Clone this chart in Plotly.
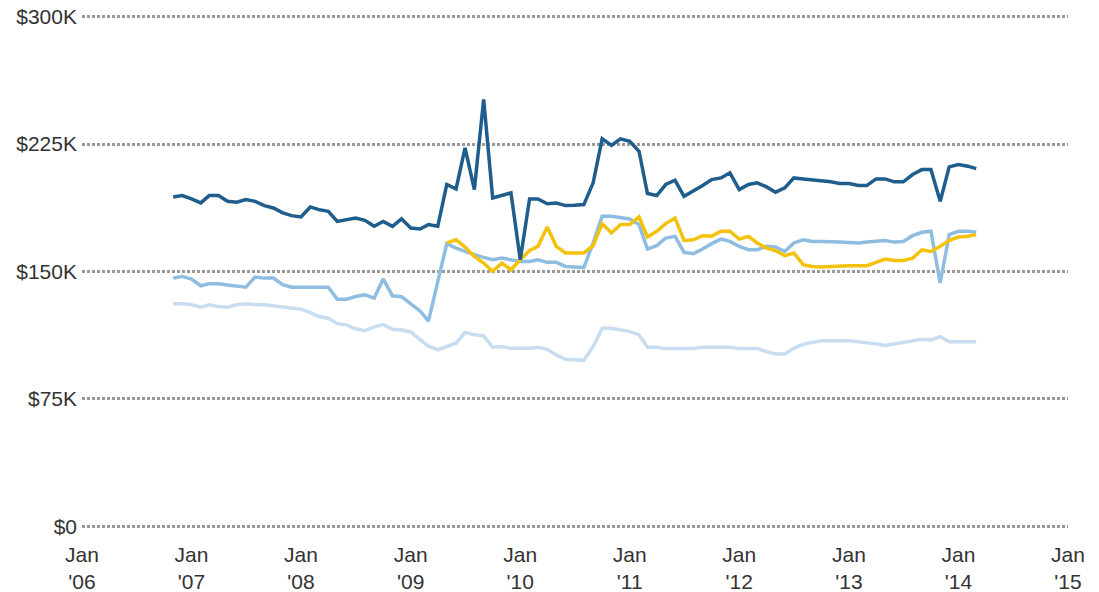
import pandas as pd
import plotly.graph_objects as go

# Monthly dates, Nov 2006 .. Mar 2014
months = pd.date_range("2006-11-01", periods=89, freq="MS")

dark = [193.9, 194.7, 192.7, 190.4, 194.7, 194.7, 191.3, 190.8, 192.3, 191.3,
        188.8, 187.4, 184.5, 182.9, 182.1, 188.0, 186.4, 185.4, 179.5, 180.5,
        181.5, 180.1, 176.6, 179.5, 176.6, 181.0, 175.6, 175.0, 177.6, 176.6,
        201.2, 198.6, 222.8, 198.2, 251.3, 193.3, 194.7, 196.3, 156.9, 192.7,
        192.7, 189.9, 190.3, 188.8, 189.0, 189.4, 202.2, 228.1, 224.2, 228.1,
        226.7, 220.8, 195.9, 194.7, 201.2, 203.7, 194.3, 197.2, 200.6, 204.1,
        205.1, 208.1, 198.2, 201.2, 202.2, 199.8, 196.7, 199.2, 205.1, 204.5,
        204.1, 203.5, 202.8, 201.8, 201.8, 200.6, 200.6, 204.5, 204.5, 202.8,
        202.8, 207.1, 210.0, 210.0, 191.3, 211.6, 213.0, 212.0, 210.6]

medium = [146.1, 147.1, 145.5, 141.6, 142.8, 142.8, 142.0, 141.6, 140.8, 146.7,
          146.1, 146.1, 142.2, 140.8, 140.8, 140.8, 140.8, 140.8, 133.7, 133.7,
          135.3, 136.3, 134.3, 145.6, 135.7, 135.2, 130.9, 126.8, 120.8, 143.5,
          166.4, 163.8, 161.8, 159.9, 158.3, 156.9, 157.9, 156.9, 155.9, 155.9,
          156.9, 155.4, 155.4, 153.0, 152.9, 152.4, 166.8, 182.5, 182.5, 181.9,
          180.9, 177.6, 163.2, 165.2, 169.7, 170.7, 161.2, 160.5, 163.2, 166.4,
          169.1, 167.7, 164.8, 162.8, 162.8, 164.8, 164.4, 161.8, 166.8, 168.7,
          167.7, 167.7, 167.3, 167.3, 167.1, 166.8, 167.3, 167.7, 168.3, 167.3,
          167.7, 171.1, 173.1, 173.7, 143.2, 171.7, 173.7, 173.7, 173.1]

yellow = [None] * 30 + [
          166.8, 168.7, 164.4, 158.9, 155.0, 150.1, 155.0, 151.0, 156.9, 162.4,
          164.8, 176.2, 164.8, 160.9, 160.9, 160.9, 165.2, 178.2, 172.7, 177.6,
          177.6, 182.1, 170.3, 173.7, 178.2, 181.5, 168.3, 168.7, 171.1, 170.7,
          173.7, 173.7, 169.1, 170.7, 166.8, 163.8, 162.3, 159.3, 160.9, 154.0,
          153.0, 152.6, 153.0, 153.4, 153.4, 153.4, 153.4, 155.4, 157.3, 156.5,
          156.5, 157.9, 162.8, 161.8, 164.8, 168.3, 170.3, 170.7, 171.7]

light = [131.0, 131.0, 130.4, 129.0, 130.4, 129.4, 129.0, 130.4, 131.0, 130.4,
         130.4, 129.8, 129.0, 128.4, 127.8, 125.8, 123.5, 122.5, 119.3, 118.6,
         116.3, 115.1, 117.4, 118.8, 116.0, 115.6, 114.4, 109.9, 106.0, 104.0,
         106.0, 107.8, 114.1, 112.7, 112.1, 105.4, 105.8, 104.8, 104.8, 104.8,
         105.4, 104.2, 100.9, 98.3, 98.0, 97.7, 105.8, 116.6, 116.6, 115.6,
         114.6, 112.7, 105.4, 105.4, 104.6, 104.6, 104.6, 104.6, 105.4, 105.4,
         105.4, 105.4, 104.6, 104.6, 104.6, 102.8, 101.4, 101.5, 104.8, 107.2,
         108.4, 109.3, 109.3, 109.3, 109.3, 108.6, 108.2, 107.4, 106.4, 107.4,
         108.4, 109.3, 110.1, 109.7, 111.7, 108.6, 108.6, 109.1, 108.6]

y_ticks = [0, 75, 150, 225, 300]
y_labels = ["$0", "$75K", "$150K", "$225K", "$300K"]
x_ticks = [f"{y}-01-01" for y in range(2006, 2016)]
x_labels = [f"Jan<br>'{str(y)[2:]}" for y in range(2006, 2016)]

fig = go.Figure()
fig.add_trace(go.Scatter(x=months, y=light, mode="lines", name="Series D",
                         line=dict(color="#c8ddf0", width=3.5)))
fig.add_trace(go.Scatter(x=months, y=medium, mode="lines", name="Series C",
                         line=dict(color="#8fbde2", width=3.5)))
fig.add_trace(go.Scatter(x=months, y=yellow, mode="lines", name="Series B",
                         line=dict(color="#f4c20d", width=3.5)))
fig.add_trace(go.Scatter(x=months, y=dark, mode="lines", name="Series A",
                         line=dict(color="#1f5d8d", width=3.5)))

font = dict(family="Arial, 'Liberation Sans', sans-serif", size=21, color="#333333")

fig.update_layout(
    width=1099, height=592,
    margin=dict(l=82, r=31, t=15, b=64, autoexpand=False),
    paper_bgcolor="white", plot_bgcolor="white",
    showlegend=False,
    font=font,
    xaxis=dict(range=["2006-01-01", "2015-01-01"], tickvals=x_ticks, ticktext=x_labels,
               showgrid=False, zeroline=False, showline=False, ticks="",
               automargin=False, ticklabelstandoff=12, ticklabeloverflow="allow",
               tickfont=font),
    yaxis=dict(range=[-1, 301], tickvals=y_ticks, ticktext=y_labels,
               showgrid=True, gridcolor="#999999", gridwidth=2.5, griddash="2.5px,2.5px",
               zeroline=False, showline=False, ticks="", ticklabelstandoff=4,
               automargin=False, ticklabeloverflow="allow", tickfont=font),
)

# remove the default page margin so the figure sits at the window's corner
fig.write_html("out.html", config={"displayModeBar": False},
               post_script="document.body.style.margin='0';")
